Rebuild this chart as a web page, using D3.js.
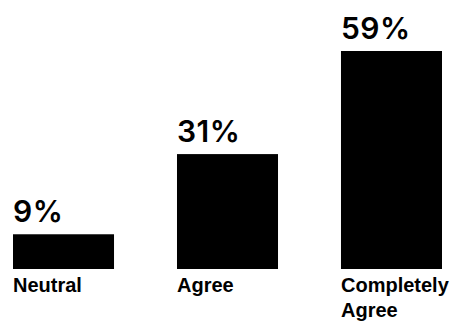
<!DOCTYPE html>
<html>
<head>
<meta charset="utf-8">
<script src="https://cdn.jsdelivr.net/npm/d3@7"></script>
<style>
  html, body { margin: 0; padding: 0; background: #fff; }
  svg { display: block; }
</style>
</head>
<body>
<svg id="chart" width="467" height="322"></svg>
<script>
const categories = ["Neutral", "Agree", "Completely Agree"];
const categoryLines = [["Neutral"], ["Agree"], ["Completely", "Agree"]];
const values = [9.4, 31.1, 59];
const valueLabels = ["9%", "31%", "59%"];

const svg = d3.select("#chart");
const labelFont = "'Liberation Sans', Arial, Helvetica, sans-serif";
const valueFont = "Inter, 'Liberation Sans', Arial, sans-serif";

const x = d3.scaleBand()
  .domain(categories)
  .range([13, 442])
  .paddingInner(0.384)
  .paddingOuter(0);

const y = d3.scaleLinear()
  .domain([0, d3.max(values)])
  .range([269, 51]);

const g = svg.append("g");

g.selectAll("rect.bar")
  .data(categories)
  .join("rect")
  .attr("class", "bar")
  .attr("x", d => x(d))
  .attr("width", x.bandwidth())
  .attr("y", (d, i) => y(values[i]))
  .attr("height", (d, i) => y(0) - y(values[i]))
  .attr("fill", "#000");

g.selectAll("text.value")
  .data(categories)
  .join("text")
  .attr("class", "value")
  .attr("x", d => x(d))
  .attr("y", (d, i) => y(values[i]) - 12.5)
  .attr("font-family", valueFont)
  .attr("font-size", 30)
  .attr("font-weight", 600)
  .attr("letter-spacing", 0.5)
  .attr("fill", "#000")
  .text((d, i) => valueLabels[i]);

const labels = g.selectAll("text.cat")
  .data(categories)
  .join("text")
  .attr("class", "cat")
  .attr("x", d => x(d))
  .attr("y", y(0) + 23)
  .attr("font-family", labelFont)
  .attr("font-size", 20)
  .attr("font-weight", "bold")
  .attr("fill", "#000");

labels.selectAll("tspan")
  .data((d, i) => categoryLines[i].map(t => ({t, x: x(d)})))
  .join("tspan")
  .attr("x", d => d.x)
  .attr("dy", (d, j) => j === 0 ? 0 : 25)
  .text(d => d.t);
</script>
</body>
</html>
